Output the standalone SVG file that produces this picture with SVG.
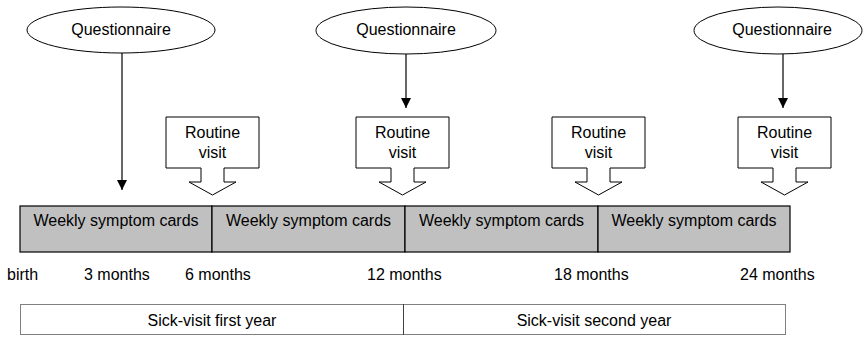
<svg xmlns="http://www.w3.org/2000/svg" width="864" height="338" viewBox="0 0 864 338">
<style>
text{font-family:"Liberation Sans",Arial,sans-serif;font-size:16px;fill:#000}
.c{text-anchor:middle}
.s{fill:#fff;stroke:#000;stroke-width:1}
.bar{fill:#c0c0c0;stroke:#000;stroke-width:1.2}
.dot{fill:none;stroke:#000;stroke-width:1;stroke-dasharray:1 1}
.ln{stroke:#000;stroke-width:1.2;fill:none}
</style>
<defs>
<marker id="ah" markerWidth="10" markerHeight="10" refX="10" refY="5" orient="auto" markerUnits="userSpaceOnUse">
<path d="M0,0 L10,5 L0,10 Z" fill="#000"/>
</marker>
</defs>
<rect width="864" height="338" fill="#fff"/>

<g id="q1"><ellipse class="s" cx="121" cy="30" rx="94" ry="23"/><text class="c" x="121" y="35">Questionnaire</text></g>
<g id="q2"><ellipse class="s" cx="406" cy="30.5" rx="90" ry="23.5"/><text class="c" x="406" y="35">Questionnaire</text></g>
<g id="q3"><ellipse class="s" cx="778" cy="30.5" rx="84" ry="23.5"/><text class="c" x="782" y="35">Questionnaire</text></g>

<g id="connectors">
<line class="ln" x1="122" y1="53" x2="122" y2="190" marker-end="url(#ah)"/>
<line class="ln" x1="406" y1="54" x2="406" y2="108" marker-end="url(#ah)"/>
<line class="ln" x1="783" y1="54" x2="783" y2="108" marker-end="url(#ah)"/>
</g>

<g id="rv1"><path class="s" d="M166,117 H259 V168 H224 V182 H236 L212.5,195 L189,182 H201 V168 H166 Z"/><text class="c" x="212.5" y="138">Routine</text><text class="c" x="212.5" y="158">visit</text></g>
<g id="rv2"><path class="s" d="M356,117 H449 V168 H414 V182 H426 L402.5,195 L379,182 H391 V168 H356 Z"/><text class="c" x="402.5" y="138">Routine</text><text class="c" x="402.5" y="158">visit</text></g>
<g id="rv3"><path class="s" d="M552,117 H645 V168 H610 V182 H622 L598.5,195 L575,182 H587 V168 H552 Z"/><text class="c" x="598.5" y="138">Routine</text><text class="c" x="598.5" y="158">visit</text></g>
<g id="rv4"><path class="s" d="M738,117 H831 V168 H796 V182 H808 L784.5,195 L761,182 H773 V168 H738 Z"/><text class="c" x="784.5" y="138">Routine</text><text class="c" x="784.5" y="158">visit</text></g>

<g id="wc1"><rect class="bar" x="20" y="206" width="192" height="46"/><text class="c" x="116" y="226">Weekly symptom cards</text></g>
<g id="wc2"><rect class="bar" x="212" y="206" width="193" height="46"/><text class="c" x="308.5" y="226">Weekly symptom cards</text></g>
<g id="wc3"><rect class="bar" x="405" y="206" width="193" height="46"/><text class="c" x="501.5" y="226">Weekly symptom cards</text></g>
<g id="wc4"><rect class="bar" x="598" y="206" width="192" height="46"/><text class="c" x="694" y="226">Weekly symptom cards</text></g>

<g id="labels">
<text x="7" y="280">birth</text>
<text x="84" y="280">3 months</text>
<text x="185" y="280">6 months</text>
<text x="367" y="280">12 months</text>
<text x="554" y="280">18 months</text>
<text x="740" y="280">24 months</text>
</g>

<g id="sv1"><rect class="dot" x="20.5" y="304.5" width="383" height="30"/><text class="c" x="212" y="326">Sick-visit first year</text></g>
<g id="sv2"><rect class="dot" x="403.5" y="304.5" width="382" height="30"/><text class="c" x="594" y="326">Sick-visit second year</text></g>
</svg>
